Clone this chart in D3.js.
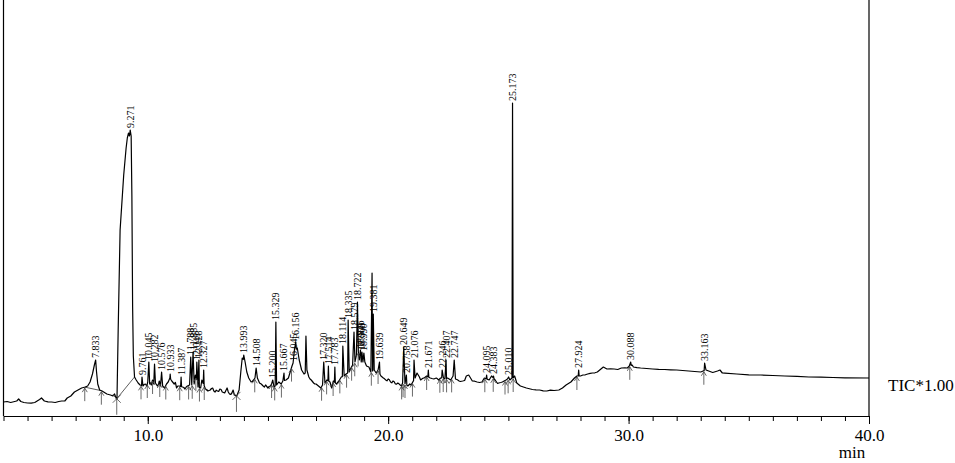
<!DOCTYPE html>
<html><head><meta charset="utf-8">
<script src="https://cdn.jsdelivr.net/npm/d3@7"></script>
<style>
body{margin:0;background:#fff}
svg{display:block}
text{font-family:"Liberation Serif","Times New Roman",Times,serif;fill:#000}
</style>
</head><body>
<svg id="c" width="955" height="463"></svg>
<script>
// Retention time (min) and abundance (arbitrary counts) of the baseline/background trace
const baseTime = [4.00,4.30,4.55,4.63,4.72,5.00,5.30,5.50,5.58,5.70,6.00,6.30,6.55,6.65,6.80,6.95,7.10,7.25,7.40,7.50,7.60,7.70,7.78,7.87,7.92,8.00,8.10,8.30,8.45,8.55,8.62,8.68,8.72,8.77,8.85,9.00,9.10,9.15,9.20,9.24,9.31,9.34,9.37,9.40,9.45,9.52,9.60,9.68,
9.80,9.90,9.96,10.00,10.08,10.15,10.20,10.25,10.32,10.40,10.48,10.53,10.62,10.70,10.78,10.85,11.00,11.10,11.20,11.30,11.45,11.55,11.65,11.74,11.83,11.93,11.98,12.09,12.20,12.25,12.40,12.50,12.60,12.70,12.80,12.90,13.00,13.10,13.20,13.30,13.40,13.50,13.55,13.60,13.70,13.75,13.80,13.87,13.93,
14.05,14.12,14.20,14.30,14.40,14.46,14.56,14.65,14.80,14.90,15.00,15.10,15.15,15.25,15.30,15.36,15.45,15.55,15.62,15.75,15.85,15.95,16.00,16.10,16.22,16.30,16.40,16.50,16.55,16.62,16.70,16.80,16.90,17.00,17.10,17.20,17.27,17.37,17.45,17.58,17.65,17.72,17.85,17.95,18.05,18.17,18.25,18.38,18.45,18.52,18.62,18.68,18.76,18.80,18.88,18.95,19.03,19.10,19.20,19.28,19.42,19.50,19.58,
19.70,19.80,19.90,20.00,20.10,20.20,20.30,20.40,20.50,20.60,20.70,20.82,20.90,21.00,21.12,21.20,21.30,21.40,21.50,21.60,21.75,21.90,22.00,22.10,22.18,22.30,22.36,22.47,22.60,22.70,22.80,22.95,23.10,23.25,23.35,23.50,23.70,23.90,24.00,24.20,24.30,24.45,24.60,24.75,24.90,24.96,25.06,25.15,25.20,25.26,25.35,25.50,25.75,26.00,26.30,26.60,26.90,27.10,27.25,27.40,27.60,27.75,27.85,
28.00,28.10,28.30,28.50,28.70,28.85,28.95,29.10,29.40,29.70,29.95,30.03,30.15,30.20,30.50,31.00,31.50,32.00,32.50,33.00,33.10,33.22,33.50,33.70,33.80,33.90,34.50,35.50,36.50,37.50,38.50,40.00];
const baseAbund = [140,135,150,170,145,130,135,165,180,150,140,145,150,180,200,240,260,280,290,300,340,420,510,440,320,260,250,220,210,200,220,180,170,860,1860,2410,2680,2780,2830,2800,2800,2200,1100,600,390,360,330,310,
300,320,300,340,320,310,360,320,330,300,350,300,300,280,320,340,350,320,280,300,290,270,300,310,310,320,410,290,280,360,270,250,260,280,240,250,270,240,230,280,220,230,260,210,200,230,260,440,580,
540,440,380,340,360,380,380,330,300,310,280,300,320,290,300,310,340,320,350,360,380,460,500,660,680,560,460,420,430,460,390,360,330,320,300,280,310,330,360,340,280,350,320,350,390,400,420,440,480,510,540,610,640,560,540,540,540,500,490,440,460,430,460,
400,380,360,370,340,350,320,330,310,330,320,300,320,330,380,430,390,370,380,400,380,370,380,360,380,380,370,380,360,400,370,350,350,400,410,350,340,340,380,360,400,360,330,340,360,370,360,380,380,400,330,300,280,265,260,250,255,260,280,310,340,380,400,
400,410,420,430,440,470,490,470,470,480,480,500,510,490,480,470,465,460,450,440,450,460,435,450,460,430,420,410,400,390,385,380];

// Extra small wiggles of the background read between the points above
const noiseTime = [4.15,4.85,5.15,5.85,6.15,6.42,9.85,10.12,10.45,10.92,11.15,11.25,11.5,11.6,12.45,12.55,12.65,12.75,12.85,12.95,13.05,13.15,13.25,13.35,13.45,13.65,14.35,14.72,14.85,15.05,16.75,16.85,16.95,17.05,17.15,19.75,19.85,19.95,20.05,20.15,20.25,20.35,20.45,20.55,20.95,21.35,21.45,21.82,22.05,22.88,23.0,23.18,23.42,23.6,23.8,24.55,24.68,26.15,26.45,26.75,28.2,28.4,28.6,29.25,29.55,29.85,30.35,30.75,31.25,31.75,32.25,32.75,34.0,35.0,36.0,37.0,38.0,39.0];
const noiseAbund = [145,135,128,142,135,150,315,330,320,380,335,300,285,290,265,255,275,250,258,245,265,235,255,240,215,205,345,320,290,295,370,345,320,310,290,390,372,352,362,332,342,318,322,300,310,360,378,375,372,362,345,355,382,348,335,325,335,262,252,258,412,426,432,472,465,482,484,475,466,462,455,445,428,412,405,396,388,382];

// Labelled peaks: retention time and apex abundance
const peakRT = [7.833,9.271,9.761,10.045,10.282,10.576,10.933,11.387,11.788,11.885,12.041,12.128,12.327,13.993,14.508,15.200,15.329,15.667,16.045,16.156,17.320,17.514,17.783,18.114,18.335,18.579,18.722,18.846,18.909,18.990,19.381,19.639,20.649,20.758,21.076,21.671,22.246,22.407,22.747,24.095,24.383,25.010,25.173,27.924,30.088,33.163];
const peakAbund = [560,2860,390,540,520,440,420,390,590,640,540,560,460,610,480,360,940,430,530,740,540,500,490,700,960,840,1140,660,640,630,1020,540,690,410,560,460,460,560,560,410,400,390,3130,460,540,530];

// Unlabelled spikes
const spikeRT = [16.58,19.33];
const spikeAbund = [800,1430];

// Peak start/end markers
const markerRT = [7.38,8.07,9.72,9.98,10.2,10.5,10.75,11.33,11.7,11.85,12.0,12.15,12.35,14.45,15.15,15.28,15.56,15.98,17.23,17.44,17.71,17.99,18.27,18.48,18.61,18.75,19.3,19.58,20.56,20.62,20.7,21.01,21.6,22.15,22.29,22.43,22.64,24.02,24.37,24.86,24.99,25.2,27.85,30.05,33.13];
const crossRT = [8.71,13.69];
const integStart = [7.38,8.71];
const integEnd = [8.07,9.45];

const majorTicks = [10,20,30,40];
const tickLabels = ["10.0","20.0","30.0","40.0"];
const minorTicks = d3.range(4,41,1);

const svg = d3.select("#c");
const x = d3.scaleLinear().domain([4,40]).range([3.5,869]);
const y = d3.scaleLinear().domain([0,4160]).range([416,0]);

const base = baseTime.map((t,i)=>[t,baseAbund[i]])
  .concat(noiseTime.map((t,i)=>[t,noiseAbund[i]]))
  .sort((a,b)=>a[0]-b[0]);
const bis = d3.bisector(d=>d[0]).right;
function baseAt(t){
  const i = bis(base,t);
  if(i<=0) return base[0][1];
  if(i>=base.length) return base[base.length-1][1];
  const a=base[i-1], b=base[i];
  return a[1]+(b[1]-a[1])*(t-a[0])/(b[0]-a[0]);
}
const apexes = peakRT.map((t,i)=>[t,peakAbund[i]]).concat(spikeRT.map((t,i)=>[t,spikeAbund[i]]));
const pts = base.slice();
apexes.forEach(([t,v])=>{
  pts.push([t,v]);
  const hasL = base.some(d=>d[0]<t && t-d[0]<0.06);
  const hasR = base.some(d=>d[0]>t && d[0]-t<0.06);
  if(!hasL) pts.push([t-0.02, baseAt(t-0.02)]);
  if(!hasR) pts.push([t+0.02, baseAt(t+0.02)]);
});
pts.sort((a,b)=>a[0]-b[0]);

// frame lines
svg.append("line").attr("x1",x(4)).attr("x2",x(4)).attr("y1",0).attr("y2",y(0)).attr("stroke","#000").attr("stroke-width",1.2);
svg.append("line").attr("x1",x(40)).attr("x2",x(40)).attr("y1",0).attr("y2",y(0)).attr("stroke","#000").attr("stroke-width",1.2);

// axes
const gMinor = svg.append("g").attr("transform",`translate(0,${y(0)})`)
  .call(d3.axisBottom(x).tickValues(minorTicks).tickSize(5).tickSizeOuter(0).tickFormat(""));
const gMajor = svg.append("g").attr("transform",`translate(0,${y(0)})`)
  .call(d3.axisBottom(x).tickValues(majorTicks).tickSize(8).tickSizeOuter(0).tickPadding(5).tickFormat((d,i)=>tickLabels[i]));
[gMinor,gMajor].forEach(g=>{
  g.attr("font-family",null);
  g.selectAll("path").attr("stroke","#000").attr("stroke-width",1.2);
  g.selectAll("line").attr("stroke","#000").attr("stroke-width",1);
});
gMajor.selectAll("text").attr("font-size",17);

svg.append("text").attr("x",852).attr("y",458).attr("text-anchor","middle").attr("font-size",17).text("min");
svg.append("text").attr("x",888).attr("y",391).attr("font-size",17).text("TIC*1.00");

// integration baselines
svg.append("g").selectAll("line").data(integStart).join("line")
  .attr("x1",d=>x(d)).attr("y1",d=>y(baseAt(d)))
  .attr("x2",(d,i)=>x(integEnd[i])).attr("y2",(d,i)=>y(baseAt(integEnd[i])))
  .attr("stroke","#333").attr("stroke-width",0.8);

// trace
svg.append("path").datum(pts)
  .attr("d",d3.line().x(d=>x(d[0])).y(d=>y(d[1])))
  .attr("fill","none").attr("stroke","#000").attr("stroke-width",1.2).attr("stroke-linejoin","round");

// markers
const mk = svg.append("g").attr("stroke","#444").attr("stroke-width",0.8).attr("fill","none");
markerRT.forEach(t=>{
  const px=x(t), py=y(baseAt(t))+1;
  mk.append("line").attr("x1",px).attr("x2",px).attr("y1",py).attr("y2",py+13);
  mk.append("path").attr("d",`M${px-2.5},${py+4}L${px},${py}L${px+2.5},${py+4}`);
});
crossRT.forEach(t=>{
  const px=x(t), py=y(baseAt(t));
  mk.append("path").attr("d",`M${px-4},${py-4}L${px+4},${py+4}M${px+4},${py-4}L${px-4},${py+4}M${px},${py}L${px},${py+16}`);
});

// peak labels
svg.append("g").selectAll("text").data(peakRT).join("text")
  .attr("transform",(d,i)=>`translate(${x(d)},${y(peakAbund[i])-2}) rotate(-90)`)
  .attr("dy","0.35em").attr("font-size",10).attr("fill","#111")
  .text(d=>d3.format(".3f")(d));
</script>
</body></html>
